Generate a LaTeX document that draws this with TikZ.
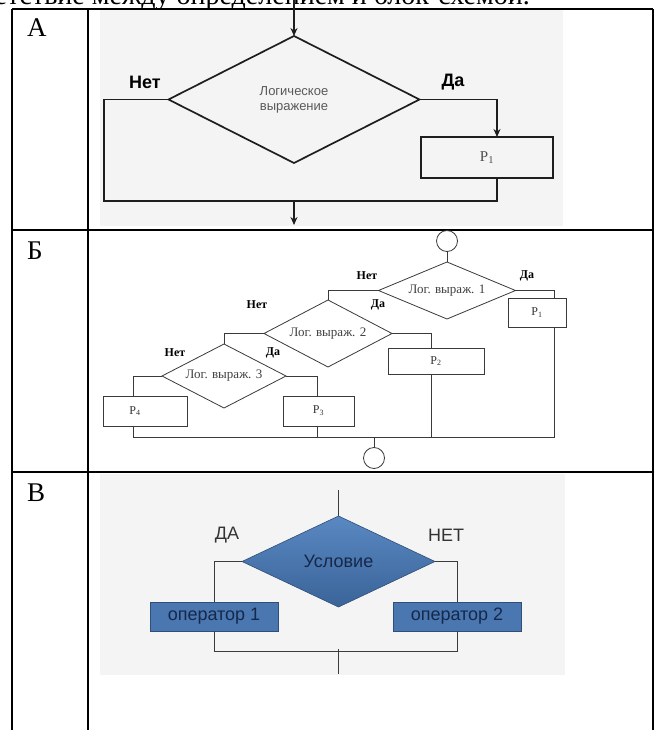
\documentclass[tikz,border=0pt]{standalone}
\usepackage{fontspec}
\setmainfont{Liberation Serif}
\newfontfamily\sansf{Liberation Sans}
\usetikzlibrary{shapes.geometric,arrows.meta,calc}
\definecolor{bgGray}{HTML}{F4F4F4}
\definecolor{aInk}{HTML}{1E1E1E}
\definecolor{bInk}{HTML}{3A3A3A}
\definecolor{cInk}{HTML}{3C3C3C}
\definecolor{cBlueTop}{HTML}{5A88C2}
\definecolor{cBlueBot}{HTML}{3A6499}
\definecolor{cBlueDark}{HTML}{2F4E78}
\definecolor{cBox}{HTML}{4A77B0}
\definecolor{cNavy}{HTML}{15284A}
\begin{document}
\begin{tikzpicture}[x=1pt,y=-1pt,
  tblline/.style={line width=1.8pt, draw=black},
  letterlbl/.style={anchor=base west, inner sep=0pt, font=\fontsize{27}{30}\selectfont},
  aline/.style={line width=1.7pt, draw=aInk},
  aarrow/.style={aline, -{Stealth[length=8pt,width=7pt]}},
  adiam/.style={diamond, draw=aInk, line width=1.7pt, inner sep=0pt, outer sep=0pt,
     shape aspect=2, align=center, minimum width=251pt, minimum height=127pt,
     font=\sansf\fontsize{13}{15}\selectfont, text=black!65},
  abox/.style={rectangle, draw=aInk, line width=1.7pt, inner sep=0pt, outer sep=0pt,
     minimum width=132pt, minimum height=41pt, font=\fontsize{15}{17}\selectfont, text=black!70},
  alabel/.style={inner sep=0pt, font=\sansf\bfseries\fontsize{18}{20}\selectfont},
  bline/.style={line width=0.8pt, draw=bInk},
  bdiam/.style={diamond, draw=bInk, line width=0.8pt, inner sep=0pt, outer sep=0pt,
     shape aspect=2.4, font=\fontsize{13}{15}\selectfont, text=black!75},
  bbox/.style={rectangle, draw=bInk, line width=0.8pt, inner sep=0pt, outer sep=0pt,
     font=\fontsize{12}{14}\selectfont, text=black!80},
  blabel/.style={inner sep=0pt, font=\bfseries\fontsize{12}{14}\selectfont},
  bcirc/.style={circle, draw=bInk, line width=0.8pt, minimum size=21pt, inner sep=0pt, outer sep=0pt},
  cline/.style={line width=0.9pt, draw=cInk},
  cdiam/.style={diamond, draw=cBlueDark, line width=0.6pt, top color=cBlueTop, bottom color=cBlueBot,
     shape aspect=2, inner sep=0pt, outer sep=0pt, minimum width=193pt, minimum height=91pt,
     font=\sansf\fontsize{18}{20}\selectfont, text=cNavy},
  cbox/.style={rectangle, draw=cBlueDark, fill=cBox, line width=0.8pt, inner sep=0pt, outer sep=0pt,
     minimum width=128pt, minimum height=29pt, font=\sansf\fontsize{18}{20}\selectfont, text=cNavy},
  clabel/.style={inner sep=0pt, font=\sansf\fontsize{18}{20}\selectfont, text=black!80}
]
\useasboundingbox (0,0) rectangle (662,730);
\fill[white] (0,0) rectangle (662,730);

% cut-off heading line (cut at the top edge, as in the reference)
\node[anchor=base east, inner sep=0pt, font=\fontsize{28}{30}\selectfont] (heading) at (530,5)
  {соответствие между определением и блок-схемой.};

% picture backgrounds
\fill[bgGray] (100,10) rectangle (563,226);
\fill[bgGray] (100,474) rectangle (565,675);

% table
\draw[tblline] (12,9) -- (653,9);
\draw[tblline] (12,230) -- (653,230);
\draw[tblline] (12,472) -- (653,472);
\draw[tblline] (12,9) -- (12,730);
\draw[tblline] (88,9) -- (88,730);
\draw[tblline, line width=2.2pt] (653,9) -- (653,730);
\node[letterlbl] (rowA) at (27,37) {А};
\node[letterlbl] (rowB) at (27,259) {Б};
\node[letterlbl] (rowC) at (27,501) {В};

% ---------- A ----------
\node[adiam] (dA) at (294,99.5) {Логическое\\выражение};
\node[abox] (pA) at (487,157.5) {P\textsubscript{1}};
\coordinate (aTop) at (294,0);
\coordinate (aL) at (104,201);
\coordinate (aM) at (294,201);
\coordinate (aR) at (497,201);
\coordinate (aEnd) at (294,225);
\coordinate (aBoxIn) at ($(pA.north)+(10,0)$);
\coordinate (aBoxOut) at ($(pA.south)+(10,0)$);
\draw[aarrow] (aTop) -- (dA.north);
\draw[aline] (dA.west) -| (aL) -- (aR) -- (aBoxOut);
\draw[aarrow] (dA.east) -| (aBoxIn);
\draw[aarrow] (aM) -- (aEnd);
\node[alabel] (aNo) at (145,82) {Нет};
\node[alabel] (aYes) at (453,82) {Да};

% ---------- B ----------
\node[bcirc] (c1) at (447,241) {};
\node[bdiam, minimum width=137pt, minimum height=57pt] (d1) at (447,290.5) {Лог. выраж. 1};
\node[bdiam, minimum width=128pt, minimum height=67pt] (d2) at (328,333.5) {Лог. выраж. 2};
\node[bdiam, minimum width=124pt, minimum height=64pt] (d3) at (224,376) {Лог. выраж. 3};
\node[bbox, minimum width=58pt, minimum height=29pt] (bp1) at (537,312.5) {P\textsubscript{1}};
\node[bbox, minimum width=96pt, minimum height=26pt] (bp2) at (436,361) {P\textsubscript{2}};
\node[bbox, minimum width=71pt, minimum height=30pt] (bp3) at (318.5,411) {P\textsubscript{3}};
\node[bbox, minimum width=84pt, minimum height=30pt] (bp4) at (145,411) {\hspace*{-20pt}P\textsubscript{4}};
\node[bcirc] (c2) at (374,458) {};
\coordinate (b1in) at (554,298);
\coordinate (b1out) at (554,327);
\coordinate (b2in) at (431,348);
\coordinate (b2out) at (431,374);
\coordinate (b3in) at (317,396);
\coordinate (b3out) at (317,426);
\coordinate (b4in) at (133,396);
\coordinate (b4out) at (133,426);
\coordinate (busL) at (133,437);
\coordinate (busR) at (554,437);
\coordinate (busM) at (374,437);
\draw[bline] (c1.south) -- (d1.north);
\draw[bline] (d1.east) -| (b1in);
\draw[bline] (d1.west) -| (d2.north);
\draw[bline] (d2.east) -| (b2in);
\draw[bline] (d2.west) -| (d3.north);
\draw[bline] (d3.east) -| (b3in);
\draw[bline] (d3.west) -| (b4in);
\draw[bline] (b4out) -- (busL) -- (busR) -- (b1out);
\draw[bline] (b2out) -- (b2out |- busL);
\draw[bline] (b3out) -- (b3out |- busL);
\draw[bline] (busM) -- (c2.north);
\node[blabel] (bNo1) at (367,276) {Нет};
\node[blabel] (bYes1) at (527,276) {Да};
\node[blabel] (bNo2) at (257,305) {Нет};
\node[blabel] (bYes2) at (378,305) {Да};
\node[blabel] (bNo3) at (175,353) {Нет};
\node[blabel] (bYes3) at (273,353) {Да};

% ---------- C ----------
\node[cdiam] (dC) at (338.5,561.5) {Условие};
\node[cbox] (op1) at (214,616.5) {оператор 1};
\node[cbox] (op2) at (457,616.5) {оператор 2};
\coordinate (cTop) at (338.5,490);
\coordinate (cL) at (214,651);
\coordinate (cR) at (457,651);
\coordinate (cM) at (338.5,649);
\coordinate (cEnd) at (338.5,674);
\draw[cline] (cTop) -- (dC.north);
\draw[cline] (dC.west) -| (op1.north);
\draw[cline] (dC.east) -| (op2.north);
\draw[cline] (op1.south) -- (cL) -- (cR) -- (op2.south);
\draw[cline] (cM) -- (cEnd);
\node[clabel] (cYes) at (227,535) {ДА};
\node[clabel] (cNo) at (446,535) {НЕТ};
\end{tikzpicture}
\end{document}
